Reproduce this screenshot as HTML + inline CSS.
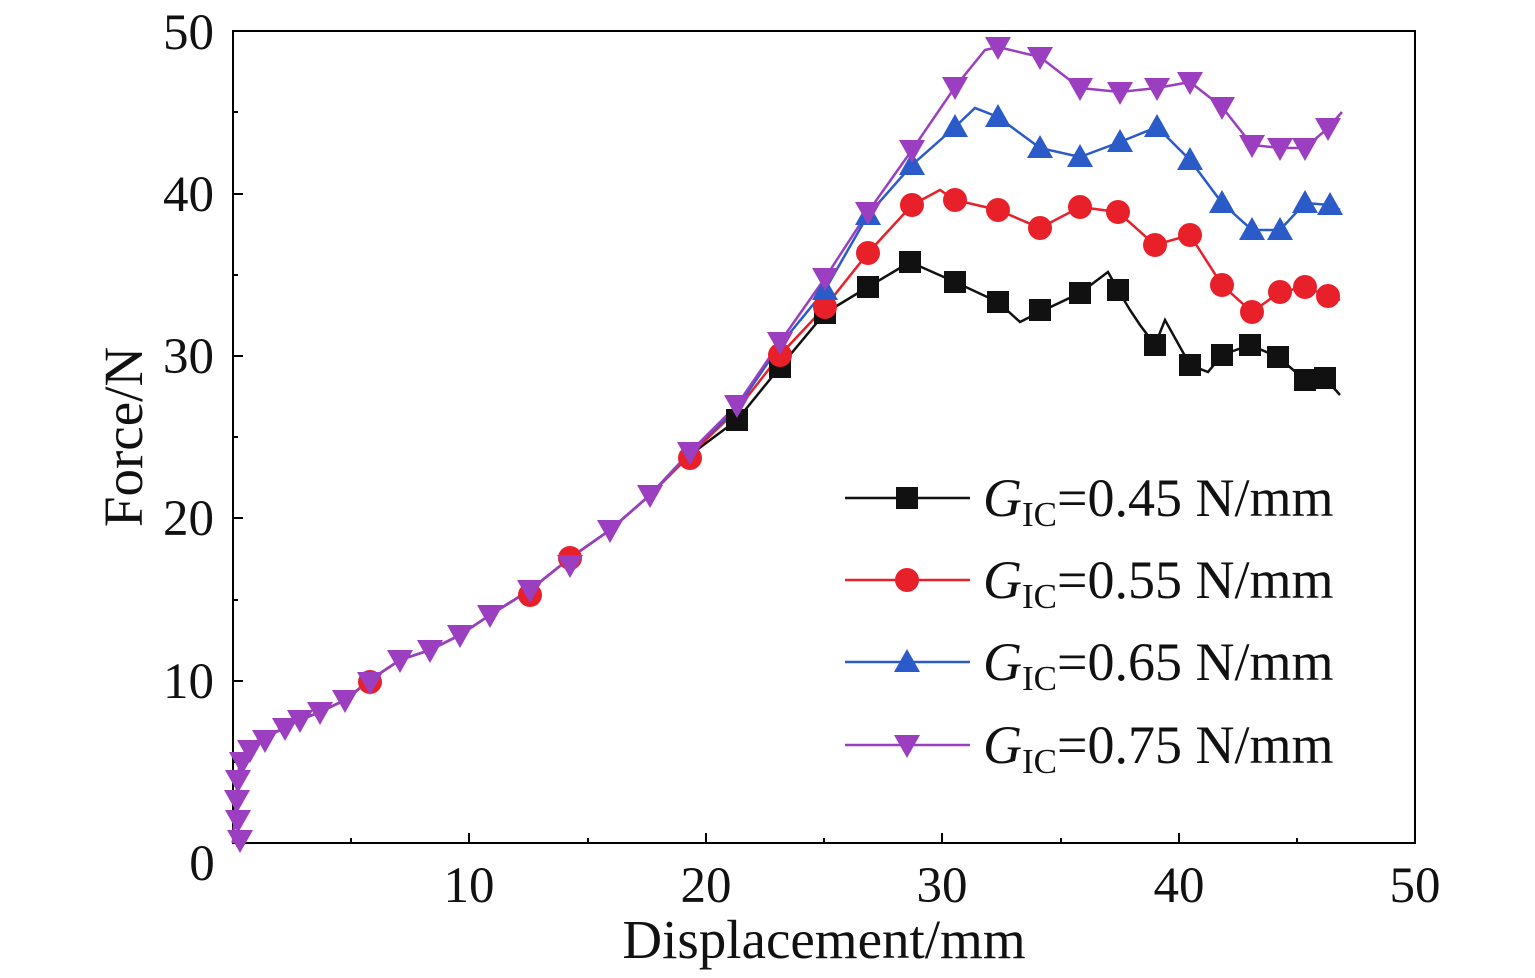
<!DOCTYPE html>
<html><head><meta charset="utf-8"><style>
html,body{margin:0;padding:0;background:#fff;}
svg{display:block;font-family:"Liberation Serif",serif;}
</style></head><body>
<svg width="1535" height="978" viewBox="0 0 1535 978" xmlns="http://www.w3.org/2000/svg">
<defs>
<g id="sq"><rect x="-11" y="-11" width="22" height="22" fill="#111"/></g>
<g id="ci"><circle r="12" fill="#e8202a"/></g>
<g id="tu"><polygon points="0,-13 13,10 -13,10" fill="#2a5bc8"/></g>
<g id="td"><polygon points="0,13 13,-10 -13,-10" fill="#9b3fc0"/></g>
</defs>
<rect x="233" y="31" width="1182" height="812" fill="none" stroke="#000" stroke-width="2"/>
<g stroke="#000" stroke-width="2">
<line x1="469" y1="843" x2="469" y2="833"/><line x1="706" y1="843" x2="706" y2="833"/><line x1="942" y1="843" x2="942" y2="833"/><line x1="1179" y1="843" x2="1179" y2="833"/>
<line x1="351" y1="843" x2="351" y2="838"/><line x1="588" y1="843" x2="588" y2="838"/><line x1="824" y1="843" x2="824" y2="838"/><line x1="1061" y1="843" x2="1061" y2="838"/><line x1="1297" y1="843" x2="1297" y2="838"/>
<line x1="233" y1="681" x2="243" y2="681"/><line x1="233" y1="518" x2="243" y2="518"/><line x1="233" y1="356" x2="243" y2="356"/><line x1="233" y1="194" x2="243" y2="194"/>
<line x1="233" y1="762" x2="238" y2="762"/><line x1="233" y1="600" x2="238" y2="600"/><line x1="233" y1="437" x2="238" y2="437"/><line x1="233" y1="275" x2="238" y2="275"/><line x1="233" y1="112" x2="238" y2="112"/>
</g>
<g font-size="51" fill="#111" text-anchor="middle">
<text x="202" y="880">0</text><text x="469" y="902">10</text><text x="706" y="902">20</text><text x="942" y="902">30</text><text x="1179" y="902">40</text><text x="1415" y="902">50</text>
</g>
<g font-size="51" fill="#111" text-anchor="end">
<text x="214" y="698">10</text><text x="214" y="535">20</text><text x="214" y="373">30</text><text x="214" y="211">40</text><text x="214" y="49">50</text>
</g>
<text x="824" y="958" font-size="55" text-anchor="middle" fill="#111">Displacement/mm</text>
<text x="0" y="0" font-size="55" text-anchor="middle" fill="#111" transform="translate(142,437) rotate(-90)">Force/N</text>

<g fill="none" stroke-width="2.5">
<polyline stroke="#111" points="233,843 236,800 240,760 250,745 270,735 300,720 320,712 345,700 370,680 400,660 430,650 460,635 490,615 530,590 570,558 610,530 650,495 690,455 737,420 780,367 825,313 868,287 910,262 955,282 998,302 1020,322 1040,312 1080,293 1108,272 1118,290 1130,310 1140,325 1155,345 1165,320 1190,365 1208,372 1222,355 1250,345 1278,357 1305,380 1325,378 1340,395"/>
<polyline stroke="#e8202a" points="233,843 236,800 240,760 250,745 270,735 300,720 320,712 345,700 370,680 400,660 430,650 460,635 490,615 530,590 570,558 610,530 650,495 690,455 737,410 780,355 825,307 868,253 912,205 940,190 955,200 998,210 1040,228 1080,207 1118,212 1155,245 1190,235 1222,285 1252,312 1280,292 1305,287 1328,296 1340,300"/>
<polyline stroke="#2a5bc8" points="233,843 236,800 240,760 250,745 270,735 300,720 320,712 345,700 370,680 400,660 430,650 460,635 490,615 530,590 570,558 610,530 650,495 690,452 737,408 780,345 825,290 868,215 912,165 955,127 975,108 998,117 1040,148 1080,157 1120,142 1157,127 1190,160 1222,203 1252,230 1280,230 1305,203 1330,205 1340,210"/>
<polyline stroke="#9b3fc0" points="233,843 236,800 240,760 250,745 270,735 300,720 320,712 345,700 370,680 400,660 430,650 460,635 490,615 530,590 570,558 610,530 650,495 690,452 737,405 780,342 825,278 868,212 912,150 955,87 985,50 998,47 1040,57 1080,88 1120,92 1157,88 1190,82 1222,107 1252,145 1280,148 1305,148 1328,128 1342,112"/>
</g>
<g>
<use href="#sq" x="780" y="367"/><use href="#sq" x="825" y="313"/><use href="#sq" x="868" y="287"/><use href="#sq" x="910" y="262"/><use href="#sq" x="955" y="282"/><use href="#sq" x="998" y="302"/><use href="#sq" x="1040" y="310"/><use href="#sq" x="1080" y="293"/><use href="#sq" x="1118" y="290"/><use href="#sq" x="1155" y="345"/><use href="#sq" x="1190" y="365"/><use href="#sq" x="1222" y="355"/><use href="#sq" x="1250" y="345"/><use href="#sq" x="1278" y="357"/><use href="#sq" x="1305" y="380"/><use href="#sq" x="1325" y="378"/><use href="#sq" x="737" y="420"/>
<use href="#ci" x="868" y="253"/><use href="#ci" x="912" y="205"/><use href="#ci" x="955" y="200"/><use href="#ci" x="998" y="210"/><use href="#ci" x="1040" y="228"/><use href="#ci" x="1080" y="207"/><use href="#ci" x="1118" y="212"/><use href="#ci" x="1155" y="245"/><use href="#ci" x="1190" y="235"/><use href="#ci" x="1222" y="285"/><use href="#ci" x="1252" y="312"/><use href="#ci" x="1280" y="292"/><use href="#ci" x="1305" y="287"/><use href="#ci" x="1328" y="296"/><use href="#ci" x="825" y="307"/><use href="#ci" x="780" y="355"/><use href="#ci" x="690" y="458"/><use href="#ci" x="570" y="558"/><use href="#ci" x="530" y="595"/><use href="#ci" x="370" y="682"/>
<use href="#tu" x="868" y="215"/><use href="#tu" x="912" y="165"/><use href="#tu" x="955" y="127"/><use href="#tu" x="998" y="117"/><use href="#tu" x="1040" y="148"/><use href="#tu" x="1080" y="157"/><use href="#tu" x="1120" y="142"/><use href="#tu" x="1157" y="127"/><use href="#tu" x="1190" y="160"/><use href="#tu" x="1222" y="203"/><use href="#tu" x="1252" y="230"/><use href="#tu" x="1280" y="230"/><use href="#tu" x="1305" y="203"/><use href="#tu" x="1330" y="205"/><use href="#tu" x="825" y="290"/>
<use href="#td" x="240" y="840"/><use href="#td" x="238" y="820"/><use href="#td" x="237" y="800"/><use href="#td" x="238" y="780"/><use href="#td" x="242" y="762"/><use href="#td" x="250" y="750"/><use href="#td" x="265" y="740"/><use href="#td" x="285" y="728"/><use href="#td" x="300" y="720"/><use href="#td" x="320" y="712"/><use href="#td" x="345" y="700"/><use href="#td" x="370" y="682"/><use href="#td" x="400" y="660"/><use href="#td" x="430" y="650"/><use href="#td" x="460" y="635"/><use href="#td" x="490" y="615"/><use href="#td" x="530" y="590"/><use href="#td" x="570" y="565"/><use href="#td" x="610" y="530"/><use href="#td" x="650" y="495"/><use href="#td" x="690" y="452"/><use href="#td" x="737" y="405"/><use href="#td" x="780" y="342"/><use href="#td" x="825" y="278"/><use href="#td" x="868" y="212"/><use href="#td" x="912" y="150"/><use href="#td" x="955" y="87"/><use href="#td" x="998" y="47"/><use href="#td" x="1040" y="57"/><use href="#td" x="1080" y="88"/><use href="#td" x="1120" y="92"/><use href="#td" x="1157" y="88"/><use href="#td" x="1190" y="82"/><use href="#td" x="1222" y="107"/><use href="#td" x="1252" y="145"/><use href="#td" x="1280" y="148"/><use href="#td" x="1305" y="148"/><use href="#td" x="1328" y="128"/>
</g>
<g stroke-width="2.5">
<line x1="845" y1="498" x2="970" y2="498" stroke="#111"/><use href="#sq" x="907" y="498"/>
<line x1="845" y1="580" x2="970" y2="580" stroke="#e8202a"/><use href="#ci" x="907" y="580"/>
<line x1="845" y1="662" x2="970" y2="662" stroke="#2a5bc8"/><use href="#tu" x="907" y="662"/>
<line x1="845" y1="745" x2="970" y2="745" stroke="#9b3fc0"/><use href="#td" x="907" y="745"/>
</g>
<g font-size="54" fill="#111">
<text x="983" y="516"><tspan font-style="italic">G</tspan><tspan font-size="35" dy="10">IC</tspan><tspan dy="-10">=0.45 N/mm</tspan></text>
<text x="983" y="598"><tspan font-style="italic">G</tspan><tspan font-size="35" dy="10">IC</tspan><tspan dy="-10">=0.55 N/mm</tspan></text>
<text x="983" y="680"><tspan font-style="italic">G</tspan><tspan font-size="35" dy="10">IC</tspan><tspan dy="-10">=0.65 N/mm</tspan></text>
<text x="983" y="763"><tspan font-style="italic">G</tspan><tspan font-size="35" dy="10">IC</tspan><tspan dy="-10">=0.75 N/mm</tspan></text>
</g>
</svg>
</body></html>
